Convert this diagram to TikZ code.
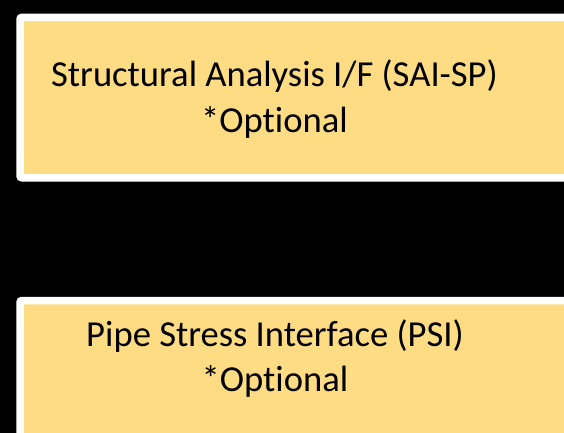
\documentclass[tikz,border=0pt]{standalone}
\usepackage{fontspec}
\setmainfont[Ligatures=NoCommon]{Carlito}
\definecolor{boxyellow}{RGB}{254,220,132}

\tikzset{
	optbox/.style={draw=white,fill=boxyellow,line width=7.5pt,rounded corners=2pt},
	optlabel/.style={text=black,align=center,inner sep=0pt,font=\fontsize{36.6}{45.8}\selectfont}
}

\begin{document}
\begin{tikzpicture}[x=1pt,y=-1pt]
	\useasboundingbox (0,0) rectangle (564,433);
	\clip (0,0) rectangle (564,433);
	\fill [black] (0,0) rectangle (564,433);

	\draw [optbox] (20,17.3) rectangle (640,177.8);
	\draw [optbox] (20,300.5) rectangle (640,480);

	\node [optlabel] (sai) at (274.5,99) {Structural Analysis I/F (SAI-SP)\\*Optional};
	\node [optlabel] (psi) at (275,358.5) {Pipe Stress Interface (PSI)\\*Optional};
\end{tikzpicture}
\end{document}
